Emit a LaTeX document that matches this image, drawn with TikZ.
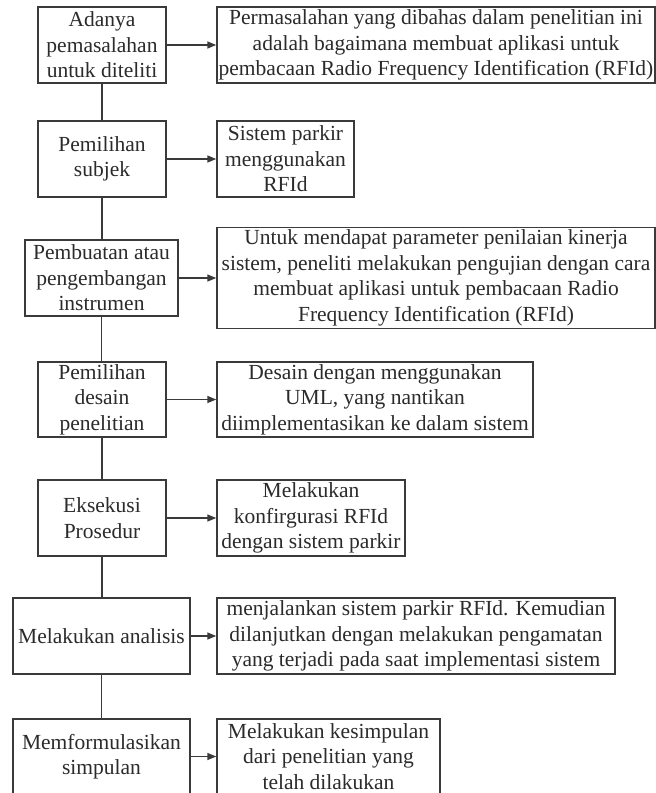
\documentclass[tikz,border=0pt]{standalone}
\usepackage{fontspec}
\setmainfont{Liberation Serif}
\usetikzlibrary{arrows.meta}
\definecolor{ink}{HTML}{2B2B2B}
\definecolor{rule}{HTML}{3A3A3A}
\begin{document}
\begin{tikzpicture}[x=1pt,y=-1pt,
  box/.style={draw=rule,line width=1.5pt,inner sep=0pt,align=center,
    text=ink,font=\fontsize{21.5}{25.5}\selectfont},
  link/.style={draw=rule,line width=1.5pt},
  arr/.style={link,-{Triangle[length=9pt,width=7pt]}}]
\useasboundingbox (0,0) rectangle (656,793);
\fill[white] (0,0) rectangle (656,793);
\clip (0,0) rectangle (656,793);

% steps of the research procedure
\node[box,minimum width=128,minimum height=76] (l1) at (102,45) {Adanya\\pemasalahan\\untuk diteliti};
\node[box,minimum width=128,minimum height=76] (l2) at (102,159) {Pemilihan\\subjek};
\node[box,minimum width=153,minimum height=76] (l3) at (101.5,278) {Pembuatan atau\\pengembangan\\instrumen};
\node[box,minimum width=128,minimum height=75] (l4) at (102,399.5) {Pemilihan\\desain\\penelitian};
\node[box,minimum width=128,minimum height=76] (l5) at (102,518) {Eksekusi\\Prosedur};
\node[box,minimum width=177,minimum height=76] (l6) at (101.5,636) {Melakukan analisis};
\node[box,minimum width=177,minimum height=75] (l7) at (101.5,756.5) {Memformulasikan\\simpulan};

% what each step means here
\node[box,minimum width=438,minimum height=76] (r1) at (436,45) {Permasalahan yang dibahas dalam penelitian ini\\adalah bagaimana membuat aplikasi untuk\\pembacaan Radio Frequency Identification (RFId)};
\node[box,minimum width=137,minimum height=76] (r2) at (285.5,159) {Sistem parkir\\menggunakan\\RFId};
\node[box,minimum width=438,minimum height=101] (r3) at (436,278) {Untuk mendapat parameter penilaian kinerja\\sistem, peneliti melakukan pengujian dengan cara\\membuat aplikasi untuk pembacaan Radio\\Frequency Identification (RFId)};
\node[box,minimum width=316,minimum height=75] (r4) at (375,399.5) {Desain dengan menggunakan\\UML, yang nantikan\\diimplementasikan ke dalam sistem};
\node[box,minimum width=188,minimum height=76] (r5) at (311,518) {Melakukan\\konfirgurasi RFId\\dengan sistem parkir};
\node[box,minimum width=398,minimum height=76] (r6) at (416,636) {menjalankan sistem parkir RFId. Kemudian\\dilanjutkan dengan melakukan pengamatan\\yang terjadi pada saat implementasi sistem};
\node[box,minimum width=223,minimum height=75] (r7) at (328.5,756.5) {Melakukan kesimpulan\\dari penelitian yang\\telah dilakukan};

% spine joining the steps
\foreach \a/\b in {l1/l2,l2/l3,l3/l4,l4/l5,l5/l6,l6/l7}
  \draw[link] (\a.south) -- (\a.south |- \b.north);

% arrows to the explanations
\foreach \i in {1,...,7}
  \draw[arr] (l\i.east) -- (l\i.east -| r\i.west);
\end{tikzpicture}
\end{document}
